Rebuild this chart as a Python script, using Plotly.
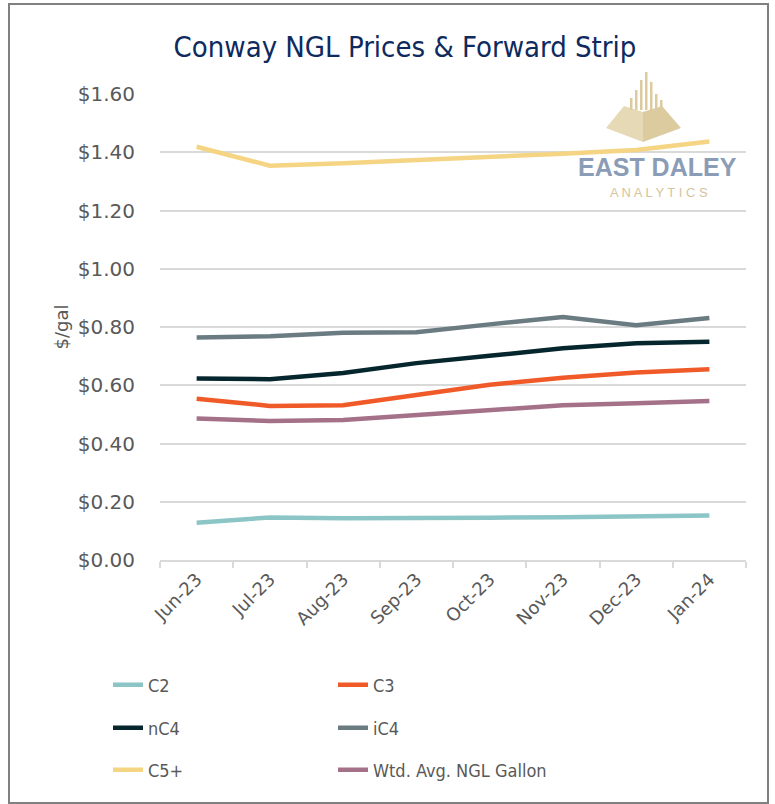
import plotly.graph_objects as go

months = ["Jun-23", "Jul-23", "Aug-23", "Sep-23", "Oct-23", "Nov-23", "Dec-23", "Jan-24"]

c2 = [0.128, 0.146, 0.143, 0.143, 0.145, 0.147, 0.151, 0.153]
c3 = [0.554, 0.529, 0.531, 0.568, 0.602, 0.626, 0.644, 0.655]
nc4 = [0.623, 0.621, 0.642, 0.676, 0.701, 0.727, 0.744, 0.749]
ic4 = [0.764, 0.768, 0.780, 0.782, 0.809, 0.834, 0.806, 0.831]
c5 = [1.419, 1.354, 1.362, 1.372, 1.383, 1.395, 1.408, 1.437]
wtd = [0.486, 0.477, 0.481, 0.497, 0.515, 0.531, 0.538, 0.546]

y_ticks = [0.0, 0.2, 0.4, 0.6, 0.8, 1.0, 1.2, 1.4, 1.6]

W, H = 775, 804
L, R, T, B = 160, 29, 94, 244
PW, PH = W - L - R, H - T - B

COND = "DejaVu Sans Condensed, DejaVu Sans"


def px(x, y):
    # pixel -> paper coords
    return (x - L) / PW, (H - B - y) / PH


series = [
    ("C2", c2, "#8cc5c6", "legend"),
    ("C3", c3, "#f05a28", "legend"),
    ("nC4", nc4, "#06262d", "legend2"),
    ("iC4", ic4, "#6a7b82", "legend2"),
    ("C5+", c5, "#f5d584", "legend3"),
    ("Wtd. Avg. NGL Gallon", wtd, "#a57189", "legend3"),
]

fig = go.Figure()

# logo watermark behind the lines
fig.add_annotation(text="<b>EAST DALEY</b>", x=px(657, 0)[0], y=px(0, 167)[1],
                   xref="paper", yref="paper", showarrow=False,
                   xanchor="center", yanchor="middle",
                   font=dict(family="Liberation Sans", size=25, color="#8b9cb6"))
fig.add_annotation(text="A N A L Y T I C S", x=px(659, 0)[0], y=px(0, 192)[1],
                   xref="paper", yref="paper", showarrow=False,
                   xanchor="center", yanchor="middle",
                   font=dict(family="Liberation Sans", size=13, color="#d6c49c"))


def path(pts):
    s = ""
    for i, (x, y) in enumerate(pts):
        a, b = px(x, y)
        s += ("M" if i == 0 else "L") + f"{a:.4f},{b:.4f} "
    return s + "Z"


# pyramid / book shape
fig.add_shape(type="path", xref="paper", yref="paper", layer="below",
              path=path([(606, 128), (624, 106), (643, 112), (643, 142)]),
              fillcolor="#e6d9b6", line_width=0)
fig.add_shape(type="path", xref="paper", yref="paper", layer="below",
              path=path([(643, 112), (662, 106), (681, 128), (643, 142)]),
              fillcolor="#dccb9f", line_width=0)
for x0, top in [(630, 98), (635, 90), (640, 80), (645, 72), (650, 82), (655, 94), (660, 100)]:
    a, b = px(x0, top)
    a2, b2 = px(x0 + 2.5, 110)
    fig.add_shape(type="rect", xref="paper", yref="paper", layer="below",
                  x0=a, x1=a2, y0=b2, y1=b, fillcolor="#dccb9f", line_width=0)

for name, vals, color, lg in series:
    fig.add_trace(go.Scatter(
        x=months, y=vals, name=name, mode="lines", legend=lg,
        line=dict(color=color, width=4.5),
    ))

leg_common = dict(orientation="h", xanchor="left", yanchor="middle",
                  entrywidth=180, entrywidthmode="pixels", bgcolor="rgba(0,0,0,0)",
                  font=dict(family=COND, size=18, color="#595959"))
lx = px(108, 0)[0]
fig.update_layout(
    legend=dict(x=lx, y=px(0, 685)[1], **leg_common),
    legend2=dict(x=lx, y=px(0, 728)[1], **leg_common),
    legend3=dict(x=lx, y=px(0, 770)[1], **leg_common),
)

fig.update_layout(
    width=W, height=H,
    margin=dict(l=L, r=R, t=T, b=B),
    paper_bgcolor="white", plot_bgcolor="white",
    font=dict(family="DejaVu Sans", color="#595959"),
    title=dict(text="Conway NGL Prices & Forward Strip", x=405 / W, y=1 - 47 / H,
               xanchor="center", yanchor="middle",
               font=dict(family=COND, size=29, color="#0e2a5e")),
    xaxis=dict(
        type="category", range=[-0.5, len(months) - 0.5],
        tickangle=-45, tickson="boundaries",
        ticks="outside", ticklen=6, tickcolor="#d9d9d9", tickwidth=1.5,
        showline=True, linecolor="#d9d9d9", linewidth=1.5,
        showgrid=False, tickfont=dict(size=18, color="#595959"),
    ),
    yaxis=dict(
        range=[0, 1.6], tickvals=y_ticks, tickformat="$.2f",
        showgrid=True, gridcolor="#d9d9d9", gridwidth=1.5,
        zeroline=False, showline=False,
        ticks="outside", ticklen=20, tickcolor="rgba(0,0,0,0)",
        tickfont=dict(size=20, color="#595959"),
        title=dict(text="$/gal", font=dict(size=18, color="#595959"), standoff=4),
    ),
)

# outer border
a0, b0 = px(9, 803)
a1, b1 = px(768, 4)
fig.add_shape(type="rect", xref="paper", yref="paper", x0=a0, y0=b0, x1=a1, y1=b1,
              line=dict(color="#808080", width=2), fillcolor="rgba(0,0,0,0)")

fig.write_html("out.html", config={"displayModeBar": False},
               post_script="document.body.style.margin='0';")
